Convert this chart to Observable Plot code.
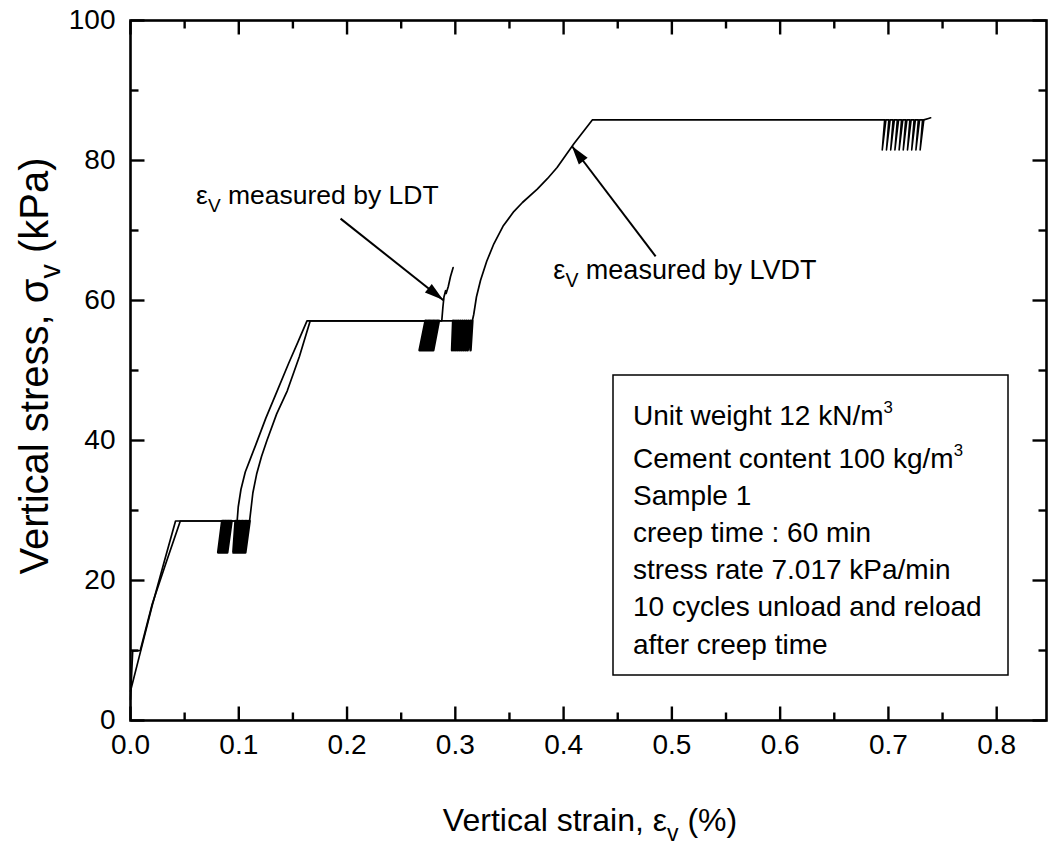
<!DOCTYPE html>
<html>
<head>
<meta charset="utf-8">
<script src="https://cdn.jsdelivr.net/npm/d3@7"></script>
<script src="https://cdn.jsdelivr.net/npm/@observablehq/plot@0.6"></script>
<style>
  html, body { margin: 0; padding: 0; background: white; }
</style>
</head>
<body>
<div id="chart"></div>
<script>
// ---------- Data ----------
// Tick values
const xMajor = [0, 0.1, 0.2, 0.3, 0.4, 0.5, 0.6, 0.7, 0.8];
const xMinor = [0.05, 0.15, 0.25, 0.35, 0.45, 0.55, 0.65, 0.75];
const yMajor = [0, 20, 40, 60, 80, 100];
const yMinor = [10, 30, 50, 70, 90];

// Plateau (creep) stress levels and unload levels (kPa)
const hi1 = 28.5, lo1 = 24.0;
const hi2 = 57.1, lo2 = 52.9;
const hi3 = 85.8, lo3 = 81.5;

// LDT curve: loading segments (strain %, stress kPa)
const ldtLoad1Strain = [0.0, 0.010, 0.020, 0.031, 0.0416, 0.0847];
const ldtLoad1Stress = [4.2, 10.3, 16.4, 22.6, 28.5, 28.5];
const ldtLoad2Strain = [0.0933, 0.0985, 0.0995, 0.102, 0.106, 0.1105, 0.1155, 0.125, 0.1355, 0.146, 0.155, 0.163, 0.2725];
const ldtLoad2Stress = [28.5, 28.5, 30.5, 33.0, 35.5, 37.3, 39.3, 43.2, 47.1, 51.0, 54.2, 57.1, 57.1];
const ldtLoad3Strain = [0.2848, 0.2875, 0.2885, 0.2895, 0.291, 0.2915, 0.2935, 0.2955, 0.298];
const ldtLoad3Stress = [57.1, 57.1, 59.0, 60.5, 61.4, 61.0, 62.0, 63.4, 64.7];

// LVDT curve: loading segments
const lvdtLoad1Strain = [0.0, 0.002, 0.009, 0.020, 0.033, 0.046, 0.097];
const lvdtLoad1Stress = [3.0, 9.9, 10.0, 16.6, 22.6, 28.5, 28.5];
const lvdtLoad2Strain = [0.110, 0.1115, 0.113, 0.1165, 0.121, 0.126, 0.135, 0.1448, 0.156, 0.166, 0.298];
const lvdtLoad2Stress = [28.5, 30.5, 32.5, 35.2, 37.7, 40.0, 43.8, 47.1, 52.0, 57.1, 57.1];
const lvdtLoad3Strain = [0.3157, 0.317, 0.3195, 0.3233, 0.329, 0.3356, 0.344, 0.354, 0.362, 0.3757, 0.385, 0.394, 0.4095, 0.4265, 0.6965];
const lvdtLoad3Stress = [57.1, 58.0, 60.5, 62.9, 65.6, 68.1, 70.6, 72.7, 74.0, 75.9, 77.4, 79.0, 82.4, 85.8, 85.8];
const lvdtLoad4Strain = [0.7327, 0.737, 0.739];
const lvdtLoad4Stress = [85.8, 86.0, 86.1];

// Unload / reload cycles (10 per creep stage): unload start, bottom, reload end strains
const c1aStart  = [0.0847, 0.0856, 0.0864, 0.0873, 0.0881, 0.0890, 0.0899, 0.0907, 0.0916, 0.0924];
const c1aBottom = [0.0810, 0.0819, 0.0828, 0.0837, 0.0846, 0.0855, 0.0864, 0.0873, 0.0882, 0.0893];
const c1aEnd    = [0.0856, 0.0864, 0.0873, 0.0881, 0.0890, 0.0899, 0.0907, 0.0916, 0.0924, 0.0933];

const c1bStart  = [0.0970, 0.0983, 0.0996, 0.1009, 0.1022, 0.1035, 0.1048, 0.1061, 0.1074, 0.1087];
const c1bBottom = [0.0950, 0.0962, 0.0974, 0.0986, 0.0998, 0.1010, 0.1022, 0.1034, 0.1046, 0.1060];
const c1bEnd    = [0.0983, 0.0996, 0.1009, 0.1022, 0.1035, 0.1048, 0.1061, 0.1074, 0.1087, 0.1100];

const c2aStart  = [0.2725, 0.2737, 0.2750, 0.2762, 0.2774, 0.2786, 0.2799, 0.2811, 0.2823, 0.2836];
const c2aBottom = [0.2670, 0.2684, 0.2698, 0.2712, 0.2726, 0.2740, 0.2754, 0.2768, 0.2782, 0.2796];
const c2aEnd    = [0.2737, 0.2750, 0.2762, 0.2774, 0.2786, 0.2799, 0.2811, 0.2823, 0.2836, 0.2848];

const c2bStart  = [0.2980, 0.2998, 0.3016, 0.3033, 0.3051, 0.3069, 0.3087, 0.3104, 0.3122, 0.3140];
const c2bBottom = [0.2970, 0.2988, 0.3006, 0.3024, 0.3042, 0.3060, 0.3078, 0.3096, 0.3114, 0.3140];
const c2bEnd    = [0.2998, 0.3016, 0.3033, 0.3051, 0.3069, 0.3087, 0.3104, 0.3122, 0.3140, 0.3157];

const c3Start   = [0.6965, 0.7004, 0.7043, 0.7082, 0.7121, 0.7159, 0.7198, 0.7237, 0.7276, 0.7315];
const c3Bottom  = [0.6943, 0.6982, 0.7021, 0.7060, 0.7099, 0.7137, 0.7176, 0.7215, 0.7254, 0.7293];
const c3End     = [0.6977, 0.7016, 0.7055, 0.7094, 0.7133, 0.7171, 0.7210, 0.7249, 0.7288, 0.7327];

// Annotation arrows (tail -> tip), in data units
const arrowTailX = [0.194, 0.485];
const arrowTailY = [71.7, 66.3];
const arrowTipX  = [0.2893, 0.408];
const arrowTipY  = [60.0, 82.0];

// ---------- Build series ----------
function seg(xs, ys, id) { return xs.map((x, i) => ({x, y: ys[i], id})); }
function cycles(st, bo, en, hi, lo, id) {
  const out = [];
  st.forEach((s, i) => { out.push({x: s, y: hi, id}, {x: bo[i], y: lo, id}, {x: en[i], y: hi, id}); });
  return out;
}
const ldtSegments = [
  ...seg(ldtLoad1Strain, ldtLoad1Stress, "a1"),
  ...seg(ldtLoad2Strain, ldtLoad2Stress, "a2"),
  ...seg(ldtLoad3Strain, ldtLoad3Stress, "a3")
];
const lvdtSegments = [
  ...seg(lvdtLoad1Strain, lvdtLoad1Stress, "b1"),
  ...seg(lvdtLoad2Strain, lvdtLoad2Stress, "b2"),
  ...seg(lvdtLoad3Strain, lvdtLoad3Stress, "b3"),
  ...seg(lvdtLoad4Strain, lvdtLoad4Stress, "b4")
];
const denseCycles = [
  ...cycles(c1aStart, c1aBottom, c1aEnd, hi1, lo1, "c1a"),
  ...cycles(c1bStart, c1bBottom, c1bEnd, hi1, lo1, "c1b"),
  ...cycles(c2aStart, c2aBottom, c2aEnd, hi2, lo2, "c2a"),
  ...cycles(c2bStart, c2bBottom, c2bEnd, hi2, lo2, "c2b")
];
const finalCycles = cycles(c3Start, c3Bottom, c3End, hi3, lo3, "c3");
const arrows = arrowTailX.map((x, i) => ({x1: x, y1: arrowTailY[i], x2: arrowTipX[i], y2: arrowTipY[i]}));

// ---------- Layout ----------
const FONT = "'Liberation Sans', Arial, Helvetica, sans-serif";
const W = 1053, H = 845, ML = 130, MR = 7, MT = 20, MB = 125;
const innerW = W - ML - MR, innerH = H - MT - MB;
const xDomain = [0, 0.846], yDomain = [0, 100];
const majorLen = 14, minorLen = 8;
const yPerPx = (yDomain[1] - yDomain[0]) / innerH;
const xPerPx = (xDomain[1] - xDomain[0]) / innerW;

// inward tick segments on all four sides
const xTicks = [...xMajor.map(v => ({v, len: majorLen})), ...xMinor.map(v => ({v, len: minorLen}))];
const yTicks = [...yMajor.map(v => ({v, len: majorLen})), ...yMinor.map(v => ({v, len: minorLen}))];
const tickSegs = [
  ...xTicks.map(t => ({x1: t.v, x2: t.v, y1: yDomain[0], y2: yDomain[0] + t.len * yPerPx})),
  ...xTicks.map(t => ({x1: t.v, x2: t.v, y1: yDomain[1], y2: yDomain[1] - t.len * yPerPx})),
  ...yTicks.map(t => ({y1: t.v, y2: t.v, x1: xDomain[0], x2: xDomain[0] + t.len * xPerPx})),
  ...yTicks.map(t => ({y1: t.v, y2: t.v, x1: xDomain[1], x2: xDomain[1] - t.len * xPerPx}))
];

const plot = Plot.plot({
  width: W,
  height: H,
  marginLeft: ML,
  marginRight: MR,
  marginTop: MT,
  marginBottom: MB,
  style: {fontFamily: FONT, fontSize: "28px", color: "black", background: "white", overflow: "visible"},
  x: {domain: xDomain},
  y: {domain: yDomain},
  marks: [
    Plot.frame({stroke: "black", fill: "none", strokeWidth: 2.6}),
    // tick labels
    Plot.axisX(xMajor, {anchor: "bottom", tickSize: 0, tickPadding: 14, tickFormat: d3.format(".1f"), label: null}),
    Plot.axisY(yMajor, {anchor: "left", tickSize: 0, tickPadding: 15, label: null}),
    // inward ticks
    Plot.link(tickSegs, {x1: "x1", y1: "y1", x2: "x2", y2: "y2", stroke: "black", strokeWidth: 2.4}),
    // data
    Plot.line(ldtSegments, {x: "x", y: "y", z: "id", stroke: "black", strokeWidth: 1.7}),
    Plot.line(lvdtSegments, {x: "x", y: "y", z: "id", stroke: "black", strokeWidth: 1.7}),
    Plot.line(denseCycles, {x: "x", y: "y", z: "id", stroke: "black", strokeWidth: 2.6}),
    Plot.line(finalCycles, {x: "x", y: "y", z: "id", stroke: "black", strokeWidth: 1.6}),
    Plot.link(arrows, {x1: "x1", y1: "y1", x2: "x2", y2: "y2", stroke: "black", strokeWidth: 2})
  ]
});
document.getElementById("chart").appendChild(plot);

const svg = d3.select(plot);
const sx = plot.scale("x"), sy = plot.scale("y");

// filled arrowheads at the arrow tips
arrows.forEach(a => {
  const tx = sx.apply(a.x2), ty = sy.apply(a.y2);
  const fx = sx.apply(a.x1), fy = sy.apply(a.y1);
  const ang = Math.atan2(ty - fy, tx - fx);
  const L = 19, hw = 5.5;
  const bx = tx - L * Math.cos(ang), by = ty - L * Math.sin(ang);
  const px = -Math.sin(ang) * hw, py = Math.cos(ang) * hw;
  svg.append("polygon")
    .attr("points", `${tx},${ty} ${bx + px},${by + py} ${bx - px},${by - py}`)
    .attr("fill", "black");
});

// ---------- Text annotations with sub/superscripts ----------
function richText(parent, x, y, parts, size, opts = {}) {
  const t = parent.append("text")
    .attr("font-family", FONT).attr("font-size", size)
    .attr("fill", "black")
    .attr("text-anchor", opts.anchor || "start");
  if (opts.transform) t.attr("transform", opts.transform);
  else t.attr("x", x).attr("y", y);
  let shift = 0;
  parts.forEach(p => {
    const ts = t.append("tspan").text(p.t);
    const target = p.sub ? size * 0.3 : p.sup ? -size * 0.42 : 0;
    if (target !== shift) { ts.attr("dy", target - shift); shift = target; }
    if (p.sub || p.sup) ts.attr("font-size", size * (p.sup ? 0.6 : 0.72));
  });
  return t;
}

// annotation labels
richText(svg, sx.apply(0.061), sy.apply(73.7),
  [{t: "ε"}, {t: "V", sub: true}, {t: " measured by LDT"}], 26.5);
richText(svg, sx.apply(0.391), sy.apply(63.0),
  [{t: "ε"}, {t: "V", sub: true}, {t: " measured by LVDT"}], 27);

// info box
const box = svg.append("g");
box.append("rect").attr("x", 613).attr("y", 375).attr("width", 395).attr("height", 300)
  .attr("fill", "white").attr("stroke", "black").attr("stroke-width", 1.5);
const infoLines = [
  [{t: "Unit weight 12 kN/m"}, {t: "3", sup: true}],
  [{t: "Cement content 100 kg/m"}, {t: "3", sup: true}],
  [{t: "Sample 1"}],
  [{t: "creep time : 60 min"}],
  [{t: "stress rate 7.017 kPa/min"}],
  [{t: "10 cycles unload and reload"}],
  [{t: "after creep time"}]
];
const infoBaselines = [425, 468, 505, 542, 579, 616, 654];
infoLines.forEach((parts, i) => richText(box, 633, infoBaselines[i], parts, 28));

// axis titles
richText(svg, 590, 831,
  [{t: "Vertical strain, ε"}, {t: "v", sub: true}, {t: " (%)"}], 32, {anchor: "middle"});
richText(svg, 0, 0,
  [{t: "Vertical stress, σ"}, {t: "v", sub: true}, {t: " (kPa)"}], 40,
  {anchor: "middle", transform: "translate(48,366) rotate(-90)"});
</script>
</body>
</html>
